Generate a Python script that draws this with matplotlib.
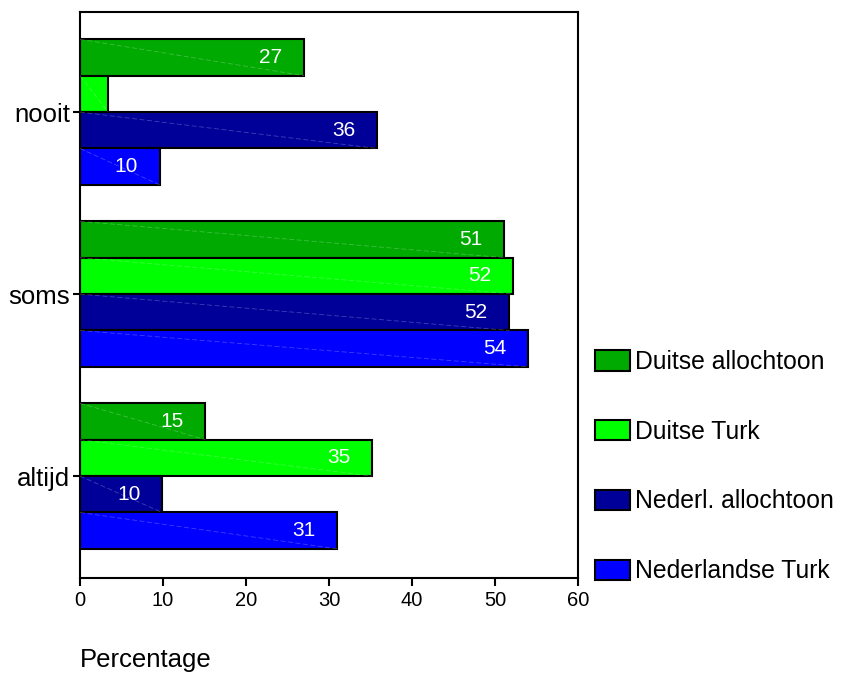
import matplotlib
matplotlib.use("Agg")
import matplotlib.pyplot as plt
import matplotlib.colors as mcolors
import numpy as np

plt.rcParams['font.family'] = ['Liberation Sans', 'DejaVu Sans']

# categories top to bottom on the chart
categories = ["nooit", "soms", "altijd"]
series = ["Duitse allochtoon", "Duitse Turk", "Nederl. allochtoon", "Nederlandse Turk"]
colors = ["#00AA00", "#00FF00", "#000099", "#0000FF"]

duitse_allochtoon = [27.0, 51.1, 15.1]
duitse_turk = [3.4, 52.2, 35.2]
nederl_allochtoon = [35.8, 51.7, 9.9]
nederlandse_turk = [9.6, 54.0, 31.0]
labels = [["27", "51", "15"],
          [None, "52", "35"],
          ["36", "52", "10"],
          ["10", "54", "31"]]

values = [duitse_allochtoon, duitse_turk, nederl_allochtoon, nederlandse_turk]

fig = plt.figure(figsize=(8.46, 6.75), dpi=100)
ax = fig.add_axes([80 / 846, 1 - 578 / 675, 498 / 846, 566 / 675])

ypos = np.array([2.0, 1.0, 0.0])
h = 0.2
handles = []
for i, (name, vals, col) in enumerate(zip(series, values, colors)):
    yc = ypos + 0.3 - i * h
    b = ax.barh(yc, vals, height=h, color=col, edgecolor="black",
                linewidth=1.5, label=name, zorder=2)
    handles.append(b)
    light = mcolors.to_rgba("white", 0.25)
    for y, v, lab in zip(yc, vals, labels[i]):
        # faint diagonal seen in the original rendering
        ax.plot([0, v], [y + h / 2, y - h / 2], color=light, lw=0.6,
                ls=(0, (6, 3)), zorder=3)
        if lab:
            ax.text(v - 4, y, lab, color="white", fontsize=15,
                    ha="center", va="center", zorder=4)

ax.set_xlim(0, 60)
ax.set_ylim(-0.56, 2.55)
ax.set_xticks(range(0, 61, 10))
ax.set_yticks(ypos)
ax.set_yticklabels(categories, fontsize=18.5)
ax.tick_params(axis="x", labelsize=14.5, length=6, width=1.5, direction="out")
ax.tick_params(axis="y", length=5, width=1.5, direction="out", pad=2)
for sp in ax.spines.values():
    sp.set_linewidth(1.5)

fig.text(80 / 846, 1 - 660 / 675, "Percentage", fontsize=18.5, ha="left", va="center")

leg = fig.legend(handles, series, loc="upper left",
                 bbox_to_anchor=(595 / 846, 1 - 350 / 675),
                 frameon=False, fontsize=17.8, handlelength=1.42,
                 handleheight=0.88, handletextpad=0.2, labelspacing=1.85,
                 borderaxespad=0, borderpad=0)

fig.savefig("out.png", dpi=100)
